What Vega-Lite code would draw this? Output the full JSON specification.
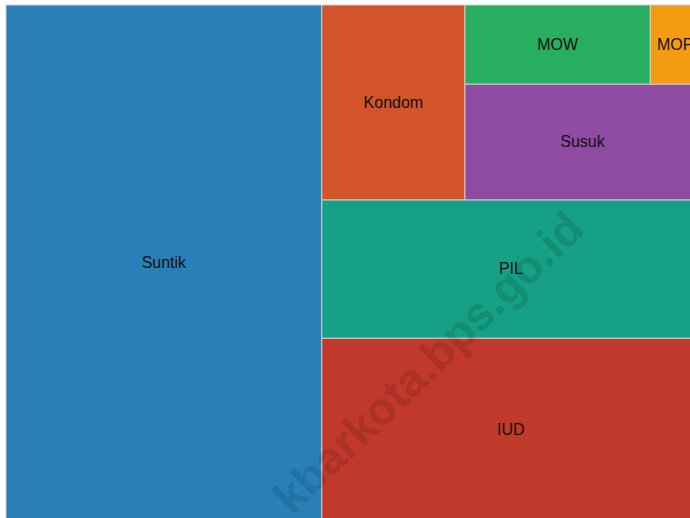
{
  "$schema": "https://vega.github.io/schema/vega-lite/v6.json",
  "width": 694,
  "height": 516,
  "padding": {"left": 5, "top": 4, "right": 0, "bottom": 0},
  "background": "white",
  "config": {"view": {"stroke": null}},
  "data": {"values": [
    {"name": "Suntik", "value": 45.5, "ord": 1, "l1": "Suntik", "l2": "Suntik", "l3": "Suntik", "l4": "Suntik"},
    {"name": "Kondom", "value": 7.8, "ord": 2, "l1": "Lain", "l2": "Atas", "l3": "Kondom", "l4": "Kondom"},
    {"name": "MOW", "value": 4.1, "ord": 3, "l1": "Lain", "l2": "Atas", "l3": "Kanan", "l4": "MOWMOP"},
    {"name": "MOP", "value": 1.1, "ord": 4, "l1": "Lain", "l2": "Atas", "l3": "Kanan", "l4": "MOWMOP"},
    {"name": "Susuk", "value": 7.6, "ord": 5, "l1": "Lain", "l2": "Atas", "l3": "Kanan", "l4": "Susuk"},
    {"name": "PIL", "value": 14.6, "ord": 6, "l1": "Lain", "l2": "PIL", "l3": "PIL", "l4": "PIL"},
    {"name": "IUD", "value": 19.3, "ord": 7, "l1": "Lain", "l2": "IUD", "l3": "IUD", "l4": "IUD"}
  ]},
  "transform": [
    {"stack": "value", "groupby": [], "sort": [{"field": "ord"}], "as": ["c0", "c1"]},
    {"joinaggregate": [{"op": "sum", "field": "value", "as": "T"}]},
    {"joinaggregate": [{"op": "min", "field": "c0", "as": "a1"}, {"op": "max", "field": "c1", "as": "b1"}], "groupby": ["l1"]},
    {"joinaggregate": [{"op": "min", "field": "c0", "as": "a2"}, {"op": "max", "field": "c1", "as": "b2"}], "groupby": ["l1", "l2"]},
    {"joinaggregate": [{"op": "min", "field": "c0", "as": "a3"}, {"op": "max", "field": "c1", "as": "b3"}], "groupby": ["l1", "l2", "l3"]},
    {"joinaggregate": [{"op": "min", "field": "c0", "as": "a4"}, {"op": "max", "field": "c1", "as": "b4"}], "groupby": ["l1", "l2", "l3", "l4"]},
    {"calculate": "datum.a1 / datum.T", "as": "x0"},
    {"calculate": "datum.b1 / datum.T", "as": "x1"},
    {"calculate": "(datum.a2 - datum.a1) / (datum.b1 - datum.a1)", "as": "y0"},
    {"calculate": "(datum.b2 - datum.a1) / (datum.b1 - datum.a1)", "as": "y1"},
    {"calculate": "datum.x0 + (datum.x1 - datum.x0) * (datum.a3 - datum.a2) / (datum.b2 - datum.a2)", "as": "X0"},
    {"calculate": "datum.x0 + (datum.x1 - datum.x0) * (datum.b3 - datum.a2) / (datum.b2 - datum.a2)", "as": "X1"},
    {"calculate": "datum.y0 + (datum.y1 - datum.y0) * (datum.a4 - datum.a3) / (datum.b3 - datum.a3)", "as": "Y0"},
    {"calculate": "datum.y0 + (datum.y1 - datum.y0) * (datum.b4 - datum.a3) / (datum.b3 - datum.a3)", "as": "Y1"},
    {"calculate": "datum.X0 + (datum.X1 - datum.X0) * (datum.c0 - datum.a4) / (datum.b4 - datum.a4)", "as": "px0"},
    {"calculate": "datum.X0 + (datum.X1 - datum.X0) * (datum.c1 - datum.a4) / (datum.b4 - datum.a4)", "as": "px1"},
    {"calculate": "(datum.px0 + datum.px1) / 2", "as": "cx"},
    {"calculate": "(datum.Y0 + datum.Y1) / 2", "as": "cy"}
  ],
  "layer": [
    {
      "mark": {"type": "rect", "stroke": "#cfcfcf", "strokeWidth": 1},
      "encoding": {
        "x": {"field": "px0", "type": "quantitative", "scale": {"domain": [0, 1], "nice": false, "zero": false}, "axis": null},
        "x2": {"field": "px1"},
        "y": {"field": "Y0", "type": "quantitative", "scale": {"domain": [0, 1], "nice": false, "zero": false, "reverse": true}, "axis": null},
        "y2": {"field": "Y1"},
        "color": {
          "field": "name", "type": "nominal", "legend": null,
          "scale": {
            "domain": ["Suntik", "Kondom", "MOW", "MOP", "Susuk", "PIL", "IUD"],
            "range": ["#2980b9", "#d35428", "#27ae60", "#f39c12", "#8e4ba1", "#16a085", "#c0392b"]
          }
        }
      }
    },
    {
      "mark": {"type": "text", "font": "Liberation Sans", "fontSize": 16, "color": "#111111", "align": "center", "baseline": "middle"},
      "encoding": {
        "x": {"field": "cx", "type": "quantitative"},
        "y": {"field": "cy", "type": "quantitative"},
        "text": {"field": "name", "type": "nominal"}
      }
    },
    {
      "data": {"values": [{"label": "kbarkota.bps.go.id"}]},
      "mark": {"type": "text", "font": "Liberation Sans", "fontSize": 46, "fontWeight": "bold", "angle": -44, "color": "#000000", "opacity": 0.11, "align": "center", "baseline": "middle"},
      "encoding": {
        "x": {"datum": 0.61},
        "y": {"datum": 0.695},
        "text": {"field": "label", "type": "nominal"}
      }
    }
  ]
}
